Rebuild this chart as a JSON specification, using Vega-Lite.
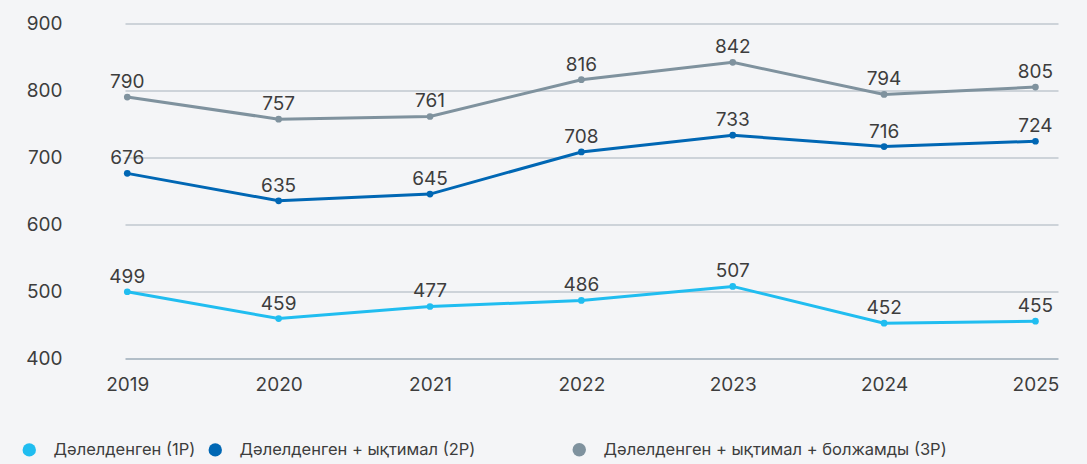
{
  "$schema": "https://vega.github.io/schema/vega-lite/v6.json",
  "autosize": {"type": "none"},
  "width": 933,
  "height": 334.5,
  "padding": {"left": 125, "top": 23.5, "right": 29, "bottom": 106},
  "background": "#f4f5f7",
  "config": {
    "view": {"stroke": null},
    "font": "Inter",
    "axis": {"labelFont": "Inter", "labelColor": "#3d3d3d", "labelFontSize": 19}
  },
  "data": {
    "values": [
      {"year": 2019, "series": "Дәлелденген (1P)", "value": 499},
      {"year": 2020, "series": "Дәлелденген (1P)", "value": 459},
      {"year": 2021, "series": "Дәлелденген (1P)", "value": 477},
      {"year": 2022, "series": "Дәлелденген (1P)", "value": 486},
      {"year": 2023, "series": "Дәлелденген (1P)", "value": 507},
      {"year": 2024, "series": "Дәлелденген (1P)", "value": 452},
      {"year": 2025, "series": "Дәлелденген (1P)", "value": 455},
      {"year": 2019, "series": "Дәлелденген + ықтимал (2P)", "value": 676},
      {"year": 2020, "series": "Дәлелденген + ықтимал (2P)", "value": 635},
      {"year": 2021, "series": "Дәлелденген + ықтимал (2P)", "value": 645},
      {"year": 2022, "series": "Дәлелденген + ықтимал (2P)", "value": 708},
      {"year": 2023, "series": "Дәлелденген + ықтимал (2P)", "value": 733},
      {"year": 2024, "series": "Дәлелденген + ықтимал (2P)", "value": 716},
      {"year": 2025, "series": "Дәлелденген + ықтимал (2P)", "value": 724},
      {"year": 2019, "series": "Дәлелденген + ықтимал + болжамды (3P)", "value": 790},
      {"year": 2020, "series": "Дәлелденген + ықтимал + болжамды (3P)", "value": 757},
      {"year": 2021, "series": "Дәлелденген + ықтимал + болжамды (3P)", "value": 761},
      {"year": 2022, "series": "Дәлелденген + ықтимал + болжамды (3P)", "value": 816},
      {"year": 2023, "series": "Дәлелденген + ықтимал + болжамды (3P)", "value": 842},
      {"year": 2024, "series": "Дәлелденген + ықтимал + болжамды (3P)", "value": 794},
      {"year": 2025, "series": "Дәлелденген + ықтимал + болжамды (3P)", "value": 805}
    ]
  },
  "encoding": {
    "x": {
      "field": "year", "type": "quantitative",
      "scale": {"domain": [2018.985, 2025.149], "nice": false, "zero": false},
      "axis": {"title": null, "values": [2019, 2020, 2021, 2022, 2023, 2024, 2025], "format": "d", "grid": false, "domain": false, "ticks": false, "labelPadding": 17, "labelFlush": false}
    },
    "y": {
      "field": "value", "type": "quantitative",
      "scale": {"domain": [400, 900], "nice": false, "zero": false},
      "axis": {
        "title": null, "values": [400, 500, 600, 700, 800, 900], "grid": true,
        "gridColor": {"condition": {"test": "datum.value === 400", "value": "#71889a"}, "value": "#a5b2bc"},
        "gridWidth": 1.2, "domain": false, "ticks": false, "labelPadding": 63
      }
    }
  },
  "layer": [
    {
      "mark": {"type": "line", "strokeWidth": 3},
      "encoding": {
        "stroke": {
          "field": "series", "type": "nominal",
          "scale": {
            "domain": ["Дәлелденген (1P)", "Дәлелденген + ықтимал (2P)", "Дәлелденген + ықтимал + болжамды (3P)"],
            "range": ["#20bdf0", "#0067b4", "#7f929e"]
          },
          "legend": {
            "title": null, "orient": "none", "direction": "horizontal",
            "values": ["Дәлелденген + ықтимал + болжамды (3P)"],
            "legendX": 446, "legendY": 418,
            "symbolType": "circle", "symbolSize": 180, "symbolOpacity": 1, "symbolStrokeWidth": 0,
            "symbolFillColor": "#7f929e",
            "labelFont": "Inter", "labelFontSize": 16.5, "labelColor": "#3d3d3d",
            "labelOffset": 16, "labelLimit": 500
          }
        }
      }
    },
    {
      "mark": {"type": "point", "filled": true, "opacity": 1, "size": 45, "shape": "circle"},
      "encoding": {
        "fill": {
          "field": "series", "type": "nominal",
          "scale": {
            "domain": ["Дәлелденген (1P)", "Дәлелденген + ықтимал (2P)", "Дәлелденген + ықтимал + болжамды (3P)", "—"],
            "range": ["#20bdf0", "#0067b4", "#7f929e", "#7f929e"]
          },
          "legend": {
            "title": null, "orient": "none", "direction": "horizontal",
            "values": ["Дәлелденген (1P)", "Дәлелденген + ықтимал (2P)"],
            "legendX": -104, "legendY": 418,
            "symbolType": "circle", "symbolSize": 180, "symbolOpacity": 1, "symbolStrokeWidth": 0,
            "labelFont": "Inter", "labelFontSize": 16.5, "labelColor": "#3d3d3d",
            "labelOffset": 16, "columnPadding": 11, "labelLimit": 500
          }
        }
      }
    },
    {
      "mark": {"type": "text", "dy": -15, "fontSize": 19, "color": "#3d3d3d", "font": "Inter"},
      "encoding": {"text": {"field": "value", "type": "quantitative"}}
    }
  ]
}
